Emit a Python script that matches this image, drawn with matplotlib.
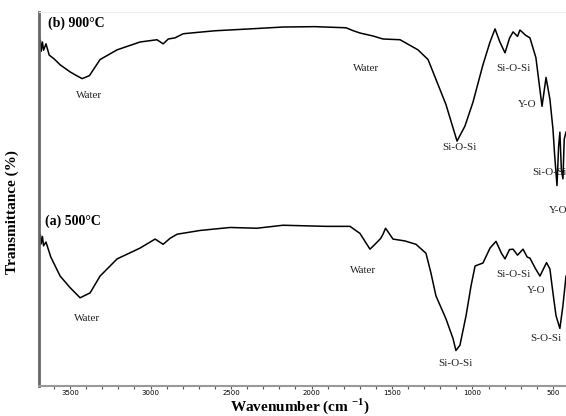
import matplotlib
matplotlib.use("Agg")
import matplotlib.pyplot as plt
from matplotlib.ticker import MultipleLocator

plt.rcParams["mathtext.fontset"] = "custom"
plt.rcParams["mathtext.rm"] = "Liberation Serif:bold"
plt.rcParams["mathtext.bf"] = "Liberation Serif:bold"

# FTIR spectra (wavenumber in cm-1, transmittance in arbitrary units)
wn_900 = [3693, 3685, 3680, 3672, 3665, 3650, 3630, 3600, 3562, 3500, 3460, 3425, 3380,
          3314, 3208, 3065, 2960, 2922, 2890, 2848, 2798, 2700, 2599, 2382, 2177, 1980,
          1786, 1740, 1699, 1618, 1556, 1450, 1339, 1276, 1227, 1165, 1096, 1047, 997, 935,
          891, 860, 830, 798, 770, 748, 720, 705, 670, 643, 606, 568, 543, 519, 500, 490,
          475, 465, 457, 448, 438, 430, 419]
t_900 = [90.7, 92.5, 89.5, 92.0, 89.8, 91.5, 88.5, 87.5, 85.9, 84.0, 83.0, 82.2, 83.0,
         87.3, 89.9, 92.0, 92.6, 91.5, 92.8, 93.1, 94.2, 94.6, 95.0, 95.5, 96.0, 96.1,
         95.8, 95.0, 94.4, 93.6, 92.8, 92.6, 89.9, 87.3, 82.0, 75.3, 65.5, 69.5, 75.9, 85.9,
         92.0, 95.5, 92.0, 89.1, 93.0, 94.7, 93.5, 95.2, 93.8, 93.1, 87.8, 74.8, 82.5, 76.7,
         68.7, 62.0, 53.6, 64.0, 67.9, 58.0, 55.4, 66.0, 67.9]

wn_500 = [3693, 3685, 3680, 3672, 3665, 3650, 3620, 3562, 3500, 3438, 3376, 3314, 3208,
          3065, 2972, 2922, 2879, 2835, 2693, 2506, 2339, 2177, 1910, 1761, 1699, 1637,
          1599, 1570, 1556, 1540, 1494, 1420, 1351, 1289, 1258, 1227, 1165, 1121, 1103,
          1078, 1040, 1009, 984, 935, 891, 854, 820, 798, 770, 748, 720, 686, 660, 643, 610,
          581, 540, 519, 500, 481, 457, 438, 419]
t_500 = [38.7, 40.5, 38.0, 40.0, 37.5, 38.5, 34.5, 29.4, 26.3, 23.6, 24.9, 29.4, 34.0,
         36.9, 39.3, 37.9, 39.5, 40.6, 41.6, 42.4, 42.2, 43.0, 42.7, 42.7, 40.8, 36.6,
         38.2, 39.5, 40.6, 42.2, 39.3, 38.8, 37.9, 35.5, 30.2, 24.1, 18.0, 12.7, 9.5, 10.9,
         18.8, 26.8, 32.1, 32.9, 36.9, 38.7, 35.5, 34.0, 36.5, 36.6, 35.0, 36.6, 34.5,
         34.2, 31.5, 29.4, 33.0, 31.3, 24.9, 18.8, 15.4, 21.5, 29.4]

# peak assignments: (label, wavenumber, height)
labels_900 = [("Water", 3382, 77.7), ("Water", 1661, 84.9), ("Si-O-Si", 1078, 63.9),
              ("Si-O-Si", 748, 84.9), ("Y-O", 661, 75.3), ("Si-O-Si", 525, 57.0),
              ("Y-O", 470, 46.9)]
labels_500 = [("Water", 3394, 18.0), ("Water", 1680, 31.0), ("Si-O-Si", 1103, 6.1),
              ("Si-O-Si", 748, 29.7), ("Y-O", 606, 25.5), ("S-O-Si", 543, 12.7)]

fig = plt.figure(figsize=(5.66, 4.16), dpi=100)
ax = fig.add_axes([0.069, 0.072, 0.931, 0.899])

ax.plot(wn_900, t_900, color="black", lw=1.1)
ax.plot(wn_500, t_500, color="black", lw=1.1)

for txt, x, y in labels_900 + labels_500:
    ax.text(x, y, txt, ha="center", va="center", fontsize=8,
            family="Liberation Serif", color="#222222")

ax.text(3637, 97.1, "(b) 900°C", ha="left", va="center", fontsize=10,
        family="Liberation Serif", fontweight="bold")
ax.text(3655, 44.0, "(a) 500°C", ha="left", va="center", fontsize=10,
        family="Liberation Serif", fontweight="bold")

ax.set_xlim(3693, 419)
ax.set_ylim(0, 100)
ax.xaxis.set_major_locator(MultipleLocator(500))
ax.xaxis.set_minor_locator(MultipleLocator(100))
ax.set_yticks([])
ax.tick_params(axis="x", which="both", length=2, width=0.8, colors="#555555",
               labelsize=5, pad=1, labelcolor="black")

ax.spines["right"].set_visible(False)
ax.spines["left"].set_color("#666666")
ax.spines["left"].set_linewidth(2)
ax.spines["bottom"].set_color("#999999")
ax.spines["bottom"].set_linewidth(1.5)
ax.spines["top"].set_color("#eeeeee")
ax.spines["top"].set_linewidth(0.8)

fig.text(0.53, 0.0, "Wavenumber (cm $^{-1}$)", ha="center", va="bottom",
         fontsize=11, family="Liberation Serif", fontweight="bold")
fig.text(0.022, 0.49, "Transmittance (%)", ha="center", va="center", rotation=90,
         fontsize=11, family="Liberation Serif", fontweight="bold")

fig.savefig("out.png", dpi=100)
